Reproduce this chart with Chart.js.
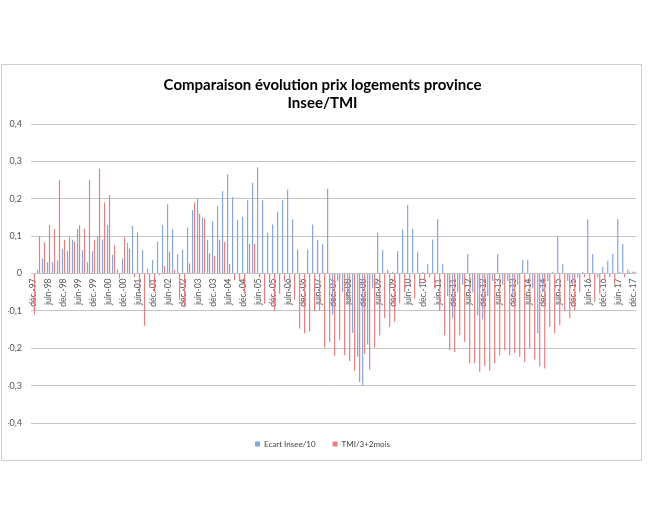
<!DOCTYPE html>
<html>
<head>
<meta charset="utf-8">
<script src="https://cdn.jsdelivr.net/npm/chart.js@4.4.1/dist/chart.umd.min.js"></script>
<style>
    html, body { margin: 0; padding: 0; background: #fff; }
    #frame { position: absolute; left: 1px; top: 64px; width: 639px; height: 395px; border: 1px solid #cfcfcf; }
    #wrap { position: absolute; left: 0; top: 0; width: 649px; height: 519px; }
</style>
</head>
<body>
<div id="frame"></div>
<div id="wrap"><canvas id="prixChart"></canvas></div>
<script>
// bimonthly categories, déc.-97 -> déc.-17
const categories = [
    'déc.-97',
    'févr.-98', 'avr.-98', 'juin-98', 'août-98', 'oct.-98', 'déc.-98',
    'févr.-99', 'avr.-99', 'juin-99', 'août-99', 'oct.-99', 'déc.-99',
    'févr.-00', 'avr.-00', 'juin-00', 'août-00', 'oct.-00', 'déc.-00',
    'févr.-01', 'avr.-01', 'juin-01', 'août-01', 'oct.-01', 'déc.-01',
    'févr.-02', 'avr.-02', 'juin-02', 'août-02', 'oct.-02', 'déc.-02',
    'févr.-03', 'avr.-03', 'juin-03', 'août-03', 'oct.-03', 'déc.-03',
    'févr.-04', 'avr.-04', 'juin-04', 'août-04', 'oct.-04', 'déc.-04',
    'févr.-05', 'avr.-05', 'juin-05', 'août-05', 'oct.-05', 'déc.-05',
    'févr.-06', 'avr.-06', 'juin-06', 'août-06', 'oct.-06', 'déc.-06',
    'févr.-07', 'avr.-07', 'juin-07', 'août-07', 'oct.-07', 'déc.-07',
    'févr.-08', 'avr.-08', 'juin-08', 'août-08', 'oct.-08', 'déc.-08',
    'févr.-09', 'avr.-09', 'juin-09', 'août-09', 'oct.-09', 'déc.-09',
    'févr.-10', 'avr.-10', 'juin-10', 'août-10', 'oct.-10', 'déc.-10',
    'févr.-11', 'avr.-11', 'juin-11', 'août-11', 'oct.-11', 'déc.-11',
    'févr.-12', 'avr.-12', 'juin-12', 'août-12', 'oct.-12', 'déc.-12',
    'févr.-13', 'avr.-13', 'juin-13', 'août-13', 'oct.-13', 'déc.-13',
    'févr.-14', 'avr.-14', 'juin-14', 'août-14', 'oct.-14', 'déc.-14',
    'févr.-15', 'avr.-15', 'juin-15', 'août-15', 'oct.-15', 'déc.-15',
    'févr.-16', 'avr.-16', 'juin-16', 'août-16', 'oct.-16', 'déc.-16',
    'févr.-17', 'avr.-17', 'juin-17', 'août-17', 'oct.-17', 'déc.-17'
];

// labels shown on the axis (every 6 months)
const tickLabels = [
    'déc.-97', 'juin-98', 'déc.-98', 'juin-99', 'déc.-99', 'juin-00', 'déc.-00',
    'juin-01', 'déc.-01', 'juin-02', 'déc.-02', 'juin-03', 'déc.-03', 'juin-04',
    'déc.-04', 'juin-05', 'déc.-05', 'juin-06', 'déc.-06', 'juin-07', 'déc.-07',
    'juin-08', 'déc.-08', 'juin-09', 'déc.-09', 'juin-10', 'déc.-10', 'juin-11',
    'déc.-11', 'juin-12', 'déc.-12', 'juin-13', 'déc.-13', 'juin-14', 'déc.-14',
    'juin-15', 'déc.-15', 'juin-16', 'déc.-16', 'juin-17', 'déc.-17'
];

const ecartInsee = [
    0,
    0.01, 0.04, 0.03, 0.03, 0.035, 0.065,
    0.06, 0.09, 0.12, 0.062, 0.03, 0.06,
    0.1, 0.09, 0.13, 0.05, 0.01, 0.04,
    0.082, 0.127, 0.11, 0.063, 0.013, 0.037,
    0.085, 0.13, 0.185, 0.118, 0.052, 0.064,
    0.123, 0.17, 0.2, 0.15, 0.09, 0.14,
    0.18, 0.22, 0.265, 0.205, 0.143, 0.152,
    0.196, 0.243, 0.284, 0.196, 0.109, 0.131,
    0.165, 0.196, 0.225, 0.145, 0.064, 0,
    0.064, 0.131, 0.09, 0.078, 0.227, -0.11,
    -0.02, -0.05, -0.08, -0.159, -0.223, -0.30,
    -0.19, -0.04, 0.109, 0.062, 0.01, 0.005,
    0.06, 0.118, 0.183, 0.12, 0.058, 0.005,
    0.025, 0.091, 0.145, 0.025, -0.06, -0.12,
    -0.05, -0.03, 0.052, -0.05, -0.112, -0.123,
    -0.06, -0.02, 0.052, -0.03, -0.02, -0.06,
    -0.03, 0.037, 0.037, -0.04, -0.16, -0.05,
    -0.02, 0.005, 0.1, 0.025, -0.02, -0.03,
    -0.01, 0.005, 0.145, 0.052, -0.01, 0.018,
    0.034, 0.052, 0.145, 0.079, 0.011, 0.005
];

const tmi = [
    -0.11,
    0.1, 0.083, 0.13, 0.12, 0.25, 0.09,
    0.097, 0.085, 0.13, 0.12, 0.25, 0.09,
    0.28, 0.19, 0.21, 0.075, -0.013, 0.097,
    0.067, -0.01, -0.055, -0.14, -0.035, -0.05,
    -0.005, 0.02, 0.058, 0.01, -0.067, -0.09,
    0.027, 0.19, 0.16, 0.147, 0.054, 0.047,
    0.09, 0.085, 0.025, -0.018, -0.018, -0.054,
    0.079, 0.079, -0.01, -0.08, -0.02, -0.10,
    -0.054, -0.02, -0.045, -0.07, -0.147, -0.16,
    -0.155, -0.10, -0.10, -0.198, -0.183, -0.22,
    -0.177, -0.219, -0.234, -0.26, -0.29, -0.215,
    -0.257, -0.198, -0.165, -0.12, -0.143, -0.13,
    -0.08, -0.05, -0.03, -0.067, -0.03, -0.02,
    -0.01, -0.04, -0.10, -0.165, -0.205, -0.21,
    -0.165, -0.183, -0.24, -0.24, -0.263, -0.248,
    -0.26, -0.24, -0.219, -0.205, -0.219, -0.213,
    -0.223, -0.237, -0.2, -0.23, -0.248, -0.254,
    -0.143, -0.16, -0.138, -0.10, -0.12, -0.098,
    -0.05, -0.01, -0.02, -0.076, -0.054, -0.018,
    -0.01, -0.03, 0.005, -0.01, 0.005, 0.005
];

const seriesNames = ['Ecart Insee/10', 'TMI/3+2mois'];

const ctx = document.getElementById('prixChart').getContext('2d');
const chart = new Chart(ctx, {
    type: 'bar',
    data: {
        labels: categories,
        datasets: [
            {
                label: seriesNames[0],
                data: ecartInsee,
                backgroundColor: 'rgb(136, 166, 218)',
                barPercentage: 0.6,
                categoryPercentage: 0.8
            },
            {
                label: seriesNames[1],
                data: tmi,
                backgroundColor: 'rgb(230, 128, 128)',
                barPercentage: 0.6,
                categoryPercentage: 0.8
            }
        ]
    },
    options: {
        responsive: true,
        maintainAspectRatio: false,
        animation: false,
        layout: {
            padding: { top: 76, right: 12, bottom: 61, left: 8 }
        },
        plugins: {
            title: {
                display: true,
                text: ['Comparaison évolution prix logements province', 'Insee/TMI'],
                color: '#000',
                font: { family: 'Lato', size: 15, weight: 'bold', lineHeight: 1.2 },
                padding: { top: 0, bottom: 12 }
            },
            legend: {
                position: 'bottom',
                labels: {
                    boxWidth: 5,
                    boxHeight: 5,
                    color: '#444',
                    font: { family: 'Lato', size: 8 },
                    padding: 17
                }
            },
            tooltip: { enabled: false }
        },
        scales: {
            x: {
                position: { y: 0 },
                grid: { display: false, drawTicks: false },
                border: { display: true, color: '#c4c4c4', width: 1 },
                ticks: {
                    autoSkip: false,
                    minRotation: 90,
                    maxRotation: 90,
                    padding: 5,
                    color: '#555',
                    font: { family: 'Lato', size: 8.5 },
                    callback: (value, index) => index % 3 === 0 ? tickLabels[index / 3] : ''
                }
            },
            y: {
                min: -0.4,
                max: 0.4,
                afterFit: (scale) => { scale.width = 23; },
                grid: { color: '#c4c4c4', drawTicks: false },
                border: { display: false },
                ticks: {
                    stepSize: 0.1,
                    padding: 9,
                    color: '#555',
                    font: { family: 'Lato', size: 9 },
                    callback: value => {
                        const v = Math.round(value * 10) / 10;
                        return v === 0 ? '0' : v.toFixed(1).replace('.', ',');
                    }
                }
            }
        }
    }
});
</script>
</body>
</html>
